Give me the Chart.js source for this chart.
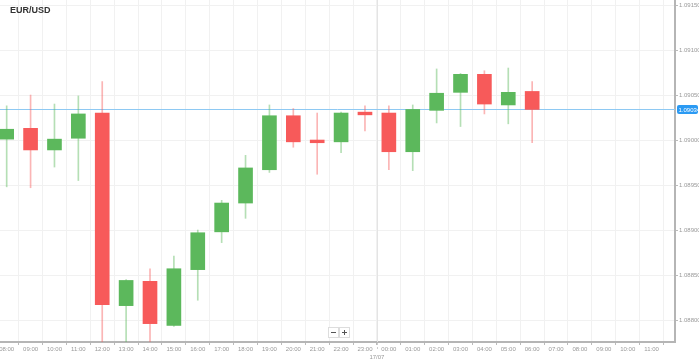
<!DOCTYPE html>
<html lang="en">
<head>
  <meta charset="UTF-8" />
  <title>EUR/USD</title>
  <script src="https://cdn.jsdelivr.net/npm/chart.js"></script>
  <style>
    html, body { margin: 0; padding: 0; background: #fff; }
    #wrap { width: 699px; height: 361px; }
  </style>
</head>
<body>
  <div id="wrap"><canvas id="myChart" width="699" height="361"></canvas></div>

  <script>
    // hourly candles, 08:00 on 16/07 to 06:00 on 17/07
    const hours = [0, 1, 2, 3, 4, 5, 6, 7, 8, 9, 10, 11, 12, 13, 14, 15, 16, 17, 18, 19, 20, 21, 22];
    const opens  = [1.09001, 1.09013, 1.08989, 1.09002, 1.09030, 1.08816, 1.08843, 1.08794, 1.08856, 1.08898, 1.08930, 1.08967,
                    1.09027, 1.09000, 1.08998, 1.09031, 1.09030, 1.08987, 1.09033, 1.09053, 1.09073, 1.09039, 1.09054];
    const closes = [1.09012, 1.08989, 1.09001, 1.09029, 1.08817, 1.08844, 1.08796, 1.08857, 1.08897, 1.08930, 1.08969, 1.09027,
                    1.08998, 1.08997, 1.09030, 1.09028, 1.08987, 1.09034, 1.09052, 1.09073, 1.09040, 1.09053, 1.09034];
    const highs  = [1.09038, 1.09050, 1.09040, 1.09049, 1.09065, 1.08845, 1.08857, 1.08871, 1.08900, 1.08933, 1.08983, 1.09039,
                    1.09035, 1.09030, 1.09031, 1.09038, 1.09038, 1.09039, 1.09079, 1.09074, 1.09077, 1.09080, 1.09065];
    const lows   = [1.08948, 1.08947, 1.08970, 1.08955, 1.08770, 1.08772, 1.08774, 1.08793, 1.08822, 1.08886, 1.08913, 1.08964,
                    1.08992, 1.08962, 1.08986, 1.09010, 1.08967, 1.08966, 1.09019, 1.09015, 1.09029, 1.09018, 1.08997];

    const tickLabels = ['08:00', '09:00', '10:00', '11:00', '12:00', '13:00', '14:00', '15:00', '16:00', '17:00', '18:00', '19:00',
                        '20:00', '21:00', '22:00', '23:00', '00:00', '01:00', '02:00', '03:00', '04:00', '05:00', '06:00',
                        '07:00', '08:00', '09:00', '10:00', '11:00'];
    const yTicks = [1.08800, 1.08850, 1.08900, 1.08950, 1.09000, 1.09050, 1.09100, 1.09150];
    const lastPrice = 1.09034;
    const dayBreak = 15.5;
    const dayLabel = '17/07';

    const GREEN = '#5cb85c';
    const RED = '#f75a5a';
    const up = hours.map((h, i) => closes[i] >= opens[i]);

    const candlePlugin = {
      id: 'extras',
      beforeDatasetsDraw(chart) {
        const { ctx, chartArea, scales } = chart;
        const x = Math.round(scales.x.getPixelForValue(dayBreak)) + 0.5;
        ctx.save();
        ctx.strokeStyle = '#e4e4e4';
        ctx.lineWidth = 1;
        ctx.beginPath();
        ctx.moveTo(x, chartArea.top);
        ctx.lineTo(x, chartArea.bottom);
        ctx.stroke();
        ctx.strokeStyle = '#ccc';
        ctx.setLineDash([2, 2]);
        ctx.beginPath();
        ctx.moveTo(x, chartArea.bottom + 1);
        ctx.lineTo(x, chartArea.bottom + 9);
        ctx.stroke();
        ctx.setLineDash([]);

        // current price line, behind the candles
        const py = Math.round(scales.y.getPixelForValue(lastPrice)) + 0.5;
        ctx.strokeStyle = '#8ec9f3';
        ctx.beginPath();
        ctx.moveTo(chartArea.left, py);
        ctx.lineTo(chartArea.right, py);
        ctx.stroke();
        ctx.restore();
      },
      afterDraw(chart) {
        const { ctx, chartArea, scales } = chart;
        ctx.save();
        // title
        ctx.fillStyle = '#333';
        ctx.font = 'bold 9px "Liberation Sans", Arial, sans-serif';
        ctx.textBaseline = 'middle';
        ctx.fillText('EUR/USD', 10, 11);

        // price label
        const py = Math.round(scales.y.getPixelForValue(lastPrice)) + 0.5;
        ctx.fillStyle = '#2b9af3';
        ctx.beginPath();
        ctx.roundRect(chartArea.right + 2, py - 4.5, 21, 9, 2);
        ctx.fill();
        ctx.fillStyle = '#fff';
        ctx.font = '6px "Liberation Sans", Arial, sans-serif';
        ctx.textAlign = 'left';
        ctx.fillText(lastPrice.toFixed(5), chartArea.right + 3.5, py + 0.5);

        // day label
        ctx.fillStyle = '#999';
        ctx.textAlign = 'center';
        ctx.fillText(dayLabel, scales.x.getPixelForValue(dayBreak), chartArea.bottom + 15);

        // zoom buttons
        ctx.strokeStyle = '#ddd';
        ctx.fillStyle = '#fff';
        [328, 339].forEach(bx => {
          ctx.fillRect(bx, 327.5, 10, 10);
          ctx.strokeRect(bx + 0.5, 327.5, 10, 10);
        });
        ctx.strokeStyle = '#555';
        ctx.beginPath();
        ctx.moveTo(331, 332.5); ctx.lineTo(336, 332.5);
        ctx.moveTo(342, 332.5); ctx.lineTo(347, 332.5);
        ctx.moveTo(344.5, 330); ctx.lineTo(344.5, 335);
        ctx.stroke();
        ctx.restore();
      }
    };

    const ctx = document.getElementById('myChart').getContext('2d');
    new Chart(ctx, {
      type: 'bar',
      data: {
        datasets: [
          {
            label: 'body',
            data: hours.map((h, i) => ({ x: h, y: [opens[i], closes[i]] })),
            backgroundColor: up.map(u => u ? GREEN : RED),
            barThickness: 14,
            grouped: false,
            order: 1
          },
          {
            label: 'wick',
            data: hours.map((h, i) => ({ x: h, y: [lows[i], highs[i]] })),
            backgroundColor: up.map(u => u ? 'rgba(92,184,92,0.45)' : 'rgba(247,90,90,0.45)'),
            barThickness: 1,
            grouped: false,
            order: 2
          }
        ]
      },
      options: {
        responsive: false,
        animation: false,
        layout: { padding: 0 },
        plugins: {
          legend: { display: false },
          tooltip: { enabled: false }
        },
        scales: {
          x: {
            type: 'linear',
            min: -0.28,
            max: 27.98,
            offset: false,
            afterBuildTicks: scale => { scale.ticks = tickLabels.map((t, i) => ({ value: i })); },
            afterFit: scale => { scale.height = 19; scale.paddingLeft = 0; scale.paddingRight = 0; },
            grid: { color: '#f1f1f1', tickColor: '#bbb', tickLength: 3 },
            border: { display: true, color: '#b5b5b5', width: 2 },
            ticks: {
              autoSkip: false,
              maxRotation: 0,
              padding: 1,
              color: '#999',
              font: { size: 6, family: '"Liberation Sans", Arial, sans-serif' },
              callback: value => tickLabels[value]
            }
          },
          y: {
            position: 'right',
            min: 1.087756,
            max: 1.091556,
            afterBuildTicks: scale => { scale.ticks = yTicks.map(v => ({ value: v })); },
            afterFit: scale => { scale.width = 24; scale.paddingTop = 0; scale.paddingBottom = 0; },
            grid: { color: '#f1f1f1', tickColor: '#bbb', tickLength: 3 },
            border: { display: true, color: '#b5b5b5', width: 2 },
            ticks: {
              padding: 1,
              color: '#999',
              font: { size: 6, family: '"Liberation Sans", Arial, sans-serif' },
              callback: value => value.toFixed(5)
            }
          }
        }
      },
      plugins: [candlePlugin]
    });
  </script>
</body>
</html>
